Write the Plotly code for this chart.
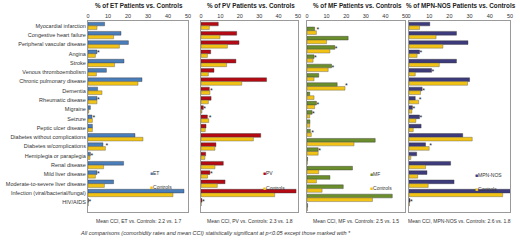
import plotly.graph_objects as go

categories = [
    "Myocardial infarction", "Congestive heart failure", "Peripheral vascular disease",
    "Angina", "Stroke", "Venous thromboembolism", "Chronic pulmonary disease",
    "Dementia", "Rheumatic disease", "Migraine", "Seizure", "Peptic ulcer disease",
    "Diabetes without complications", "Diabetes w/complications", "Hemiplegia or paraplegia",
    "Renal disease", "Mild liver disease", "Moderate-to-severe liver disease",
    "Infection (viral/bacterial/fungal)", "HIV/AIDS",
]

et = [8.3, 16.5, 20.2, 4.5, 18.0, 9.2, 27.0, 4.8, 4.5, 1.2, 2.0, 2.2, 23.5, 7.5, 1.2, 17.8, 4.5, 12.8, 48.0, 0.3]
et_ctrl = [4.5, 12.8, 15.7, 3.7, 13.3, 4.2, 25.0, 7.0, 4.5, 0.4, 2.2, 2.2, 27.5, 8.7, 1.0, 7.8, 3.7, 8.2, 42.5, 0.1]

pv = [8.9, 18.4, 19.6, 5.0, 18.0, 6.7, 33.8, 4.3, 5.2, 1.2, 3.3, 2.6, 30.8, 7.7, 2.4, 11.5, 4.6, 12.4, 49.0, 0.5]
pv_ctrl = [4.3, 9.8, 13.6, 3.3, 13.2, 3.8, 21.0, 4.6, 3.8, 0.5, 4.0, 2.2, 27.0, 7.2, 2.0, 7.2, 3.4, 8.4, 38.0, 0.1]

mf = [3.9, 21.0, 14.2, 3.6, 12.5, 6.0, 15.4, 1.4, 4.8, 2.6, 1.5, 1.7, 34.8, 5.7, 0.3, 23.2, 11.7, 18.5, 43.5, 0.3]
mf_ctrl = [4.8, 10.0, 11.7, 3.1, 10.8, 3.6, 19.4, 3.6, 3.9, 1.4, 1.4, 2.2, 24.0, 5.7, 0.2, 6.0, 4.8, 7.7, 33.4, 0.2]

mpn = [10.3, 23.5, 29.2, 5.2, 23.5, 11.2, 30.0, 6.5, 3.1, 1.7, 5.2, 6.0, 26.6, 8.2, 3.8, 20.6, 8.9, 22.3, 50.5, 0.5]
mpn_ctrl = [5.2, 13.4, 16.8, 4.0, 15.0, 3.1, 29.0, 5.7, 4.8, 1.4, 3.4, 2.1, 31.3, 10.0, 0.9, 8.2, 4.3, 9.5, 46.4, 0.2]

et_sig = ["Angina", "Rheumatic disease", "Seizure", "Diabetes w/complications",
          "Hemiplegia or paraplegia", "Mild liver disease", "HIV/AIDS"]
pv_sig = ["Dementia", "Migraine", "Seizure", "Mild liver disease", "HIV/AIDS"]
mf_sig = ["Myocardial infarction", "Peripheral vascular disease", "Angina", "Stroke",
          "Chronic pulmonary disease", "Rheumatic disease", "Migraine", "Peptic ulcer disease",
          "Diabetes w/complications"]
mpn_sig = ["Angina", "Venous thromboembolism", "Dementia", "Rheumatic disease", "Migraine",
           "Seizure", "Diabetes w/complications", "HIV/AIDS"]

group_names = ["ET", "PV", "MF", "MPN-NOS"]
titles = ["% of ET Patients vs. Controls", "% of PV Patients vs. Controls",
          "% of MF Patients vs. Controls", "% of MPN-NOS Patients vs. Controls"]
cci_texts = ["Mean CCI, ET vs. Controls: 2.2 vs. 1.7", "Mean CCI, PV vs. Controls: 2.3 vs. 1.8",
             "Mean CCI, MF vs. Controls: 2.5 vs. 1.5", "Mean CCI, MPN-NOS vs. Controls: 2.6 vs. 1.8"]
x_ticks = [0, 10, 20, 30, 40, 50]
footnote = "All comparisons (comorbidity rates and mean CCI) statistically significant at p<0.05 except those marked with *"

group_vals = [et, pv, mf, mpn]
ctrl_vals = [et_ctrl, pv_ctrl, mf_ctrl, mpn_ctrl]
sig_lists = [et_sig, pv_sig, mf_sig, mpn_sig]

W, H = 520, 240
colors = ["#4A7EBB", "#B50A14", "#6B8E2C", "#3D3B7C"]
ctrl_color = "#F2C314"
px_domains = [(88, 188), (201, 298), (307, 405), (409, 510)]
legend_px = [(148, 173, 187), (261, 173, 188), (368, 174, 188), (473, 175, 189)]
y_dom = [28.2 / H, 218.8 / H]
font_family = "Liberation Sans, Arial, sans-serif"

fig = go.Figure()
annotations = []
layout_axes = {}

for i in range(4):
    xa = "x" if i == 0 else f"x{i+1}"
    ya = "y" if i == 0 else f"y{i+1}"
    vals, ctrl = group_vals[i], ctrl_vals[i]
    fig.add_trace(go.Bar(y=categories, x=vals, orientation="h", name=group_names[i],
                         marker=dict(color=colors[i], line=dict(color="#333", width=0.4)),
                         xaxis=xa, yaxis=ya, showlegend=False))
    fig.add_trace(go.Bar(y=categories, x=ctrl, orientation="h", name="Controls",
                         marker=dict(color=ctrl_color, line=dict(color="#555", width=0.4)),
                         xaxis=xa, yaxis=ya, showlegend=False))
    sx = [max(vals[categories.index(c)], ctrl[categories.index(c)]) for c in sig_lists[i]]
    fig.add_trace(go.Scatter(x=sx, y=sig_lists[i], mode="text", text=["*"] * len(sx),
                             textposition="middle right",
                             textfont=dict(size=7, color="#222", family=font_family),
                             xaxis=xa, yaxis=ya, showlegend=False, hoverinfo="skip"))

    d0, d1 = px_domains[i]
    xkey = "xaxis" if i == 0 else f"xaxis{i+1}"
    ykey = "yaxis" if i == 0 else f"yaxis{i+1}"
    layout_axes[xkey] = dict(domain=[d0 / W, d1 / W], range=[0, 50], side="top", anchor=ya,
                             tickvals=x_ticks, tickfont=dict(size=5.5, color="#333"),
                             showline=True, mirror=True, linecolor="#9a9a9a", linewidth=1,
                             showgrid=False, zeroline=False, ticks="", automargin=False)
    layout_axes[ykey] = dict(domain=y_dom, type="category", categoryorder="array",
                             categoryarray=categories, autorange="reversed", anchor=xa,
                             showline=True, mirror=True, linecolor="#9a9a9a", linewidth=1,
                             showgrid=False, zeroline=False, ticks="", automargin=False,
                             showticklabels=(i == 0), tickfont=dict(size=5.5, color="#333"))

    cx = (d0 + d1) / 2
    annotations.append(dict(text=f"<b>{titles[i]}</b>", x=(cx + 1) / W, y=1 - 5 / H,
                            xref="paper", yref="paper", showarrow=False,
                            xanchor="center", yanchor="middle",
                            font=dict(size=6.3, color="#222")))
    annotations.append(dict(text=cci_texts[i], x=cx / W, y=1 - 221 / H,
                            xref="paper", yref="paper", showarrow=False,
                            xanchor="center", yanchor="middle",
                            font=dict(size=5, color="#333")))
    lx, ly1, ly2 = legend_px[i]
    annotations.append(dict(text=f"<span style='color:{colors[i]}'>■</span>{group_names[i]}",
                            x=lx / W, y=1 - ly1 / H, xref="paper", yref="paper",
                            showarrow=False, xanchor="left", yanchor="middle",
                            font=dict(size=5, color="#333")))
    annotations.append(dict(text=f"<span style='color:{ctrl_color}'>■</span>Controls",
                            x=lx / W, y=1 - ly2 / H, xref="paper", yref="paper",
                            showarrow=False, xanchor="left", yanchor="middle",
                            font=dict(size=5, color="#333")))

annotations.append(dict(text=f"<i>{footnote}</i>", x=215 / W, y=1 - 233 / H,
                        xref="paper", yref="paper", showarrow=False,
                        xanchor="center", yanchor="middle",
                        font=dict(size=5.5, color="#333")))

fig.update_layout(width=W, height=H, margin=dict(l=0, r=0, t=0, b=0, autoexpand=False),
                  paper_bgcolor="white", plot_bgcolor="white",
                  barmode="group", bargap=0.2, bargroupgap=0,
                  font=dict(family=font_family), annotations=annotations,
                  showlegend=False, **layout_axes)

fig.write_html("out.html", config={"displayModeBar": False},
               post_script="document.body.style.margin='0';document.body.style.overflow='hidden';")
